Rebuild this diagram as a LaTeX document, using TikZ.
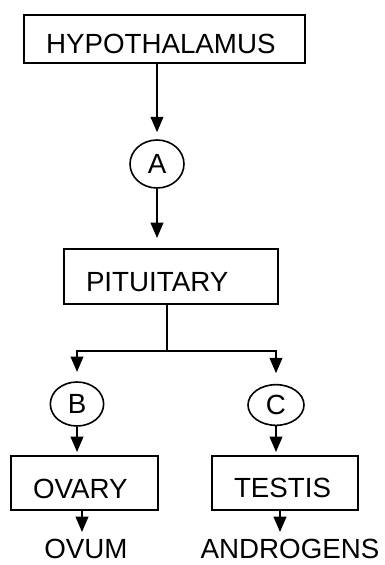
\documentclass[tikz,border=0pt]{standalone}
\usepackage{fontspec}
\setmainfont{Liberation Sans}
\usetikzlibrary{shapes.geometric,arrows.meta}
\begin{document}
\begin{tikzpicture}[x=0.75pt,y=-0.75pt,
  font=\fontsize{20.8pt}{24pt}\selectfont,
  gbox/.style={draw,line width=1.5pt,rectangle,anchor=north west,inner ysep=0pt,inner xsep=16.5pt,align=left},
  hormone/.style={draw,line width=1.2pt,ellipse,inner sep=0pt},
  link/.style={line width=1.4pt,-{Triangle[width=9.5pt,length=11.5pt]}},
  plain/.style={line width=1.4pt},
  outtext/.style={inner sep=0pt,anchor=base}]
\useasboundingbox (0,0) rectangle (385,565);
% boxes
\node[gbox,text width=177.75pt,text height=28.5pt,text depth=7.5pt] (hyp) at (23,14) {HYPOTHALAMUS};
\node[gbox,text width=127.5pt,text height=31.5pt,text depth=9.75pt] (pit) at (63,248) {PITUITARY};
\node[gbox,text width=77.25pt,text height=31.5pt,text depth=9pt] (ovary) at (10,455) {OVARY};
\node[gbox,text width=76.5pt,text height=30.75pt,text depth=9.75pt] (testis) at (211,455) {TESTIS};
% hormones
\node[hormone,minimum width=40.5pt,minimum height=36pt] (A) at (157,164) {A};
\node[hormone,minimum width=40pt,minimum height=33pt] (B) at (77,404) {B};
\node[hormone,minimum width=42pt,minimum height=30.5pt] (C) at (276,405) {C};
% products
\node[outtext] (ovum) at (86,558) {OVUM};
\node[outtext] (andr) at (290,558) {ANDROGENS};
% junction and tips
\coordinate (j) at (167,351);
\coordinate (ovtip) at (82,532);
\coordinate (tetip) at (280,532);
% connectors
\draw[link,shorten >=5.25pt] (A |- hyp.south) -- (A.north);
\draw[link,shorten >=7.5pt] (A.south) -- (A |- pit.north);
\draw[plain] (j |- pit.south) -- (j);
\draw[link,shorten >=7pt] (j) -| (B.north);
\draw[link,shorten >=8pt] (j) -| (C.north);
\draw[link,shorten >=2.25pt] (B.south) -- (B |- ovary.north);
\draw[link,shorten >=2.25pt] (C.south) -- (C |- testis.north);
\draw[link] (ovtip |- ovary.south) -- (ovtip);
\draw[link] (tetip |- testis.south) -- (tetip);
\end{tikzpicture}
\end{document}
